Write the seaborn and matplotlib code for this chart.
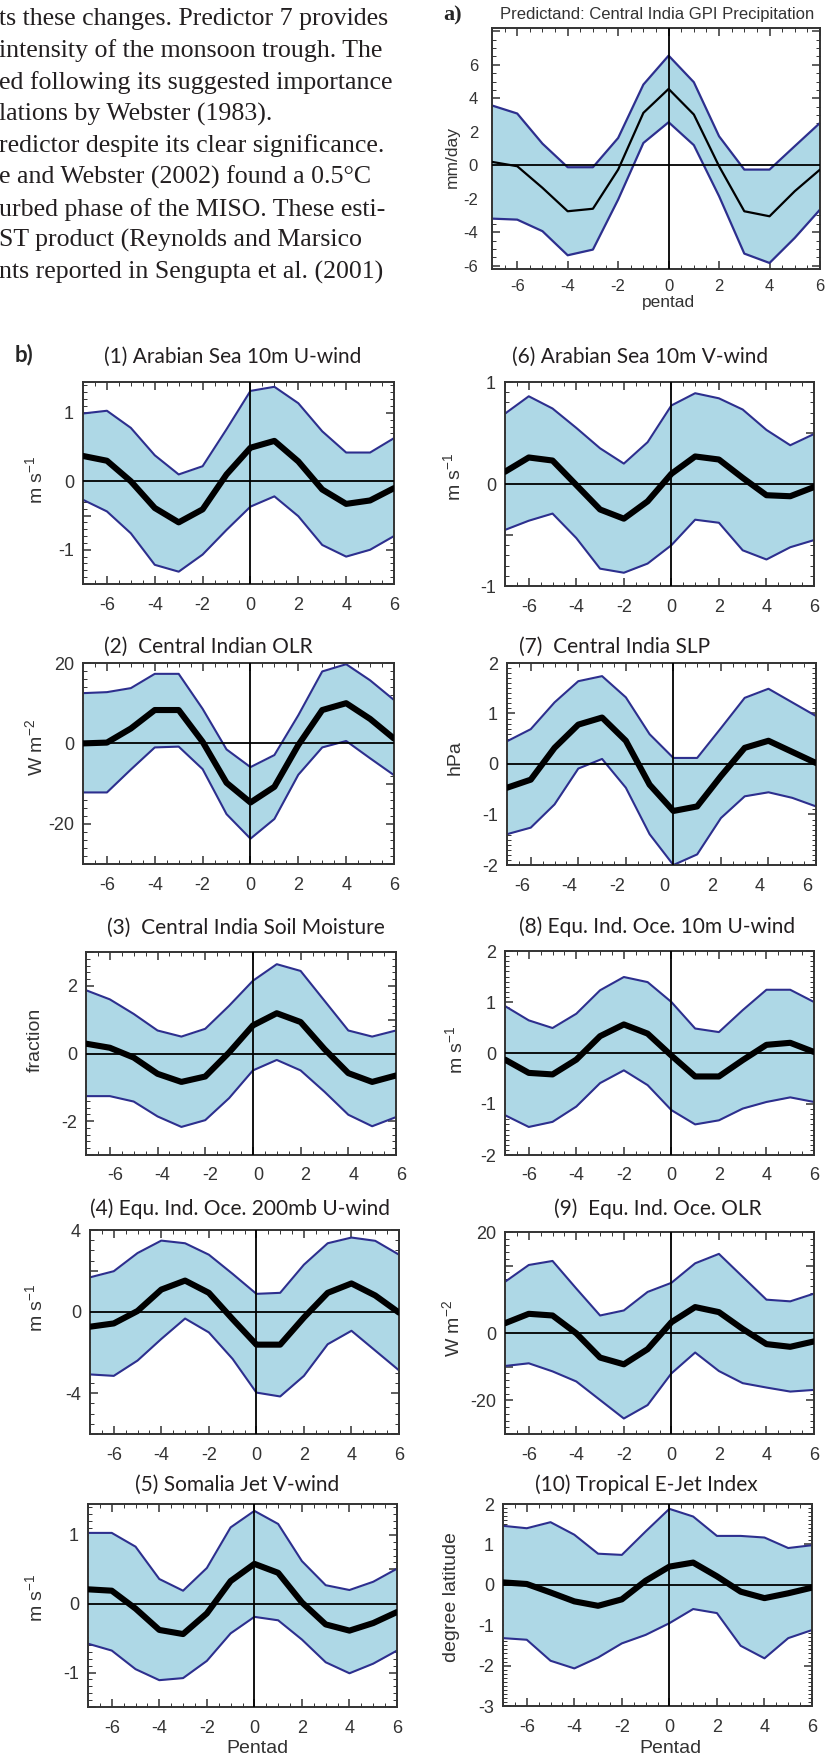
import numpy as np
import pandas as pd
import seaborn as sns
import matplotlib.pyplot as plt
from matplotlib.ticker import MultipleLocator
from matplotlib.transforms import ScaledTranslation

pentad = [-7, -6, -5, -4, -3, -2, -1, 0, 1, 2, 3, 4, 5, 6]

# a) predictand: Central India GPI precipitation (mm/day)
gpi_mean = [0.2, -0.06, -1.35, -2.75, -2.6, -0.26, 3.13, 4.56, 3.03, -0.06, -2.75, -3.05, -1.55, -0.26]
gpi_upper = [3.57, 3.09, 1.29, -0.12, -0.12, 1.63, 4.82, 6.55, 4.96, 1.73, -0.26, -0.26, 1.14, 2.53]
gpi_lower = [-3.19, -3.25, -3.94, -5.38, -5.04, -2.05, 1.33, 2.57, 1.2, -1.85, -5.28, -5.84, -4.34, -2.65]

# b) predictors
as_u_mean = [0.37, 0.3, 0.0, -0.39, -0.6, -0.41, 0.1, 0.49, 0.59, 0.29, -0.12, -0.33, -0.28, -0.1]
as_u_upper = [0.99, 1.03, 0.78, 0.38, 0.1, 0.22, 0.76, 1.32, 1.38, 1.14, 0.73, 0.42, 0.42, 0.63]
as_u_lower = [-0.27, -0.44, -0.76, -1.22, -1.32, -1.07, -0.71, -0.37, -0.22, -0.51, -0.93, -1.1, -1.0, -0.8]

ci_olr_mean = [0.0, 0.2, 3.7, 8.3, 8.3, 0.4, -9.8, -14.7, -10.8, -0.4, 8.3, 10.0, 6.1, 1.2]
ci_olr_upper = [12.5, 12.75, 13.75, 17.3, 17.3, 8.6, -1.5, -5.9, -2.9, 7.0, 17.9, 19.7, 15.7, 10.8]
ci_olr_lower = [-12.2, -12.2, -6.5, -1.0, -0.8, -6.4, -17.6, -23.7, -18.8, -7.8, -1.0, 0.6, -3.7, -7.9]

soil_mean = [0.29, 0.17, -0.12, -0.6, -0.84, -0.68, 0.03, 0.83, 1.19, 0.93, 0.13, -0.58, -0.84, -0.65]
soil_upper = [1.87, 1.6, 1.17, 0.68, 0.5, 0.73, 1.41, 2.15, 2.64, 2.44, 1.56, 0.68, 0.5, 0.68]
soil_lower = [-1.26, -1.26, -1.42, -1.86, -2.17, -1.97, -1.32, -0.5, -0.19, -0.5, -1.13, -1.81, -2.15, -1.88]

eio_u200_mean = [-0.74, -0.58, 0.03, 1.08, 1.52, 0.92, -0.37, -1.62, -1.62, -0.29, 0.92, 1.38, 0.79, -0.05]
eio_u200_upper = [1.68, 1.98, 2.87, 3.48, 3.35, 2.79, 1.85, 0.87, 0.92, 2.3, 3.35, 3.63, 3.47, 2.79]
eio_u200_lower = [-3.08, -3.15, -2.4, -1.34, -0.34, -1.02, -2.32, -3.97, -4.16, -3.15, -1.6, -0.94, -1.91, -2.88]

somali_mean = [0.21, 0.19, -0.07, -0.38, -0.44, -0.14, 0.33, 0.58, 0.45, 0.02, -0.3, -0.39, -0.28, -0.12]
somali_upper = [1.03, 1.03, 0.83, 0.36, 0.19, 0.52, 1.11, 1.35, 1.16, 0.62, 0.27, 0.2, 0.32, 0.51]
somali_lower = [-0.58, -0.68, -0.95, -1.11, -1.08, -0.83, -0.43, -0.19, -0.24, -0.52, -0.85, -1.01, -0.87, -0.68]

as_v_mean = [0.12, 0.26, 0.23, -0.01, -0.25, -0.34, -0.17, 0.1, 0.27, 0.24, 0.06, -0.11, -0.12, -0.03]
as_v_upper = [0.69, 0.86, 0.74, 0.55, 0.35, 0.2, 0.41, 0.77, 0.89, 0.84, 0.73, 0.53, 0.38, 0.49]
as_v_lower = [-0.45, -0.36, -0.29, -0.53, -0.83, -0.87, -0.78, -0.6, -0.35, -0.38, -0.65, -0.74, -0.62, -0.55]

slp_mean = [-0.47, -0.31, 0.32, 0.78, 0.92, 0.46, -0.41, -0.93, -0.84, -0.24, 0.32, 0.46, 0.24, 0.02]
slp_upper = [0.45, 0.69, 1.22, 1.64, 1.74, 1.32, 0.59, 0.12, 0.12, 0.71, 1.31, 1.49, 1.22, 0.95]
slp_lower = [-1.39, -1.26, -0.8, -0.09, 0.1, -0.47, -1.39, -2.0, -1.79, -1.07, -0.64, -0.56, -0.67, -0.84]

eio_u10_mean = [-0.13, -0.39, -0.42, -0.13, 0.33, 0.56, 0.38, -0.05, -0.46, -0.46, -0.14, 0.16, 0.2, 0.02]
eio_u10_upper = [0.92, 0.64, 0.49, 0.77, 1.23, 1.49, 1.39, 1.0, 0.48, 0.41, 0.84, 1.24, 1.24, 1.0]
eio_u10_lower = [-1.22, -1.45, -1.35, -1.05, -0.59, -0.34, -0.63, -1.12, -1.4, -1.32, -1.09, -0.96, -0.87, -0.96]

eio_olr_mean = [2.9, 5.7, 5.2, -0.1, -7.3, -9.3, -4.8, 3.2, 7.7, 6.2, 1.2, -3.3, -4.1, -2.5]
eio_olr_upper = [15.2, 20.2, 21.4, 13.2, 5.2, 6.7, 12.2, 14.9, 20.7, 23.5, 16.7, 9.9, 9.4, 11.7]
eio_olr_lower = [-9.8, -9.0, -11.4, -14.4, -19.9, -25.4, -21.4, -12.0, -5.8, -11.3, -14.9, -16.2, -17.4, -16.9]

ejet_mean = [0.06, 0.02, -0.19, -0.41, -0.52, -0.36, 0.1, 0.45, 0.55, 0.21, -0.17, -0.33, -0.21, -0.07]
ejet_upper = [1.46, 1.4, 1.55, 1.24, 0.77, 0.74, 1.32, 1.88, 1.69, 1.21, 1.21, 1.17, 0.91, 0.98]
ejet_lower = [-1.32, -1.36, -1.88, -2.07, -1.8, -1.45, -1.24, -0.95, -0.6, -0.7, -1.51, -1.82, -1.32, -1.12]

titles = ['(1) Arabian Sea 10m U-wind', '(2)  Central Indian OLR', '(3)  Central India Soil Moisture',
          '(4) Equ. Ind. Oce. 200mb U-wind', '(5) Somalia Jet V-wind', '(6) Arabian Sea 10m V-wind',
          '(7)  Central India SLP', '(8) Equ. Ind. Oce. 10m U-wind', '(9)  Equ. Ind. Oce. OLR',
          '(10) Tropical E-Jet Index']
ms = r'm s$^{-1}$'
wm2 = r'W m$^{-2}$'
units = [ms, wm2, 'fraction', ms, ms, ms, 'hPa', ms, wm2, 'degree latitude']

page_text = [
    "ts these changes. Predictor 7 provides",
    "intensity of the monsoon trough. The",
    "ed following its suggested importance",
    "lations by Webster (1983).",
    "redictor despite its clear significance.",
    "e and Webster (2002) found a 0.5\u00b0C",
    "urbed phase of the MISO. These esti-",
    "ST product (Reynolds and Marsico",
    "nts reported in Sengupta et al. (2001)",
]

series = [
    (as_u_mean, as_u_upper, as_u_lower),
    (ci_olr_mean, ci_olr_upper, ci_olr_lower),
    (soil_mean, soil_upper, soil_lower),
    (eio_u200_mean, eio_u200_upper, eio_u200_lower),
    (somali_mean, somali_upper, somali_lower),
    (as_v_mean, as_v_upper, as_v_lower),
    (slp_mean, slp_upper, slp_lower),
    (eio_u10_mean, eio_u10_upper, eio_u10_lower),
    (eio_olr_mean, eio_olr_upper, eio_olr_lower),
    (ejet_mean, ejet_upper, ejet_lower),
]

# axis scales: (ylim, major step, minor step, labelled ticks)
scales = [
    ((-1.5, 1.45), 0.5, 0.1, {-1: '-1', 0: '0', 1: '1'}),
    ((-30, 20), 10, 2, {-20: '-20', 0: '0', 20: '20'}),
    ((-3, 3), 1, 0.2, {-2: '-2', 0: '0', 2: '2'}),
    ((-6, 4), 2, 0.5, {-4: '-4', 0: '0', 4: '4'}),
    ((-1.5, 1.45), 0.5, 0.1, {-1: '-1', 0: '0', 1: '1'}),
    ((-1, 1), 0.5, 0.1, {-1: '-1', 0: '0', 1: '1'}),
    ((-2, 2), 1, 0.1, {-2: '-2', -1: '-1', 0: '0', 1: '1', 2: '2'}),
    ((-2, 2), 1, 0.1, {-2: '-2', -1: '-1', 0: '0', 1: '1', 2: '2'}),
    ((-30, 30), 10, 2, {-20: '-20', 0: '0', 30: '20'}),
    ((-3, 2), 1, 0.1, {-3: '-3', -2: '-2', -1: '-1', 0: '0', 1: '1', 2: '2'}),
]

# layout in pixels: axes (left, right, top, bottom), title centre, unit label centre, x label shift
layout = [
    ((83, 394, 382, 584), (233, 357), (35, 480), 0),
    ((83, 394, 663, 864), (208, 647), (35, 747), 0),
    ((86, 396, 952, 1155), (246, 928), (35, 1040), 5),
    ((90, 399, 1230, 1434), (240, 1209), (35, 1308), 0),
    ((88, 397, 1504, 1707), (237, 1485), (35, 1598), 0),
    ((505, 814, 382, 586), (640, 357), (453, 477), 0),
    ((507, 816, 663, 865), (615, 647), (455, 758), -9),
    ((505, 814, 951, 1155), (657, 927), (455, 1050), 0),
    ((505, 814, 1232, 1434), (658, 1209), (452, 1328), 0),
    ((503, 812, 1504, 1706), (646, 1485), (452, 1597), 0),
]

W, H = 831, 1760
FILL = '#aed8e6'
EDGE = '#2d2f8e'
INK = '#333333'

sns.set_theme(style='ticks')
plt.rcParams['font.family'] = ['Liberation Sans', 'DejaVu Sans']
plt.rcParams['axes.unicode_minus'] = False
plt.rcParams['mathtext.default'] = 'regular'

fig = plt.figure(figsize=(W / 100, H / 100), dpi=100)
fig.patch.set_facecolor('white')


def px_axes(box):
    l, r, t, b = box
    return fig.add_axes([l / W, 1 - b / H, (r - l) / W, (b - t) / H])


def ftext(x, y, s, **kw):
    return fig.text(x / W, 1 - y / H, s, **kw)


def draw_band(ax, mean, upper, lower, mean_lw, edge_lw):
    df = pd.DataFrame({'pentad': pentad, 'mean': mean, 'upper': upper, 'lower': lower})
    ax.fill_between(df['pentad'], df['lower'], df['upper'], color=FILL, linewidth=0, zorder=1)
    sns.lineplot(data=df, x='pentad', y='upper', color=EDGE, linewidth=edge_lw, ax=ax, zorder=2)
    sns.lineplot(data=df, x='pentad', y='lower', color=EDGE, linewidth=edge_lw, ax=ax, zorder=2)
    ax.axhline(0, color='black', linewidth=1.3, zorder=3)
    ax.axvline(0, color='black', linewidth=1.3, zorder=3)
    sns.lineplot(data=df, x='pentad', y='mean', color='black', linewidth=mean_lw, ax=ax, zorder=4)
    ax.set_xlabel('')
    ax.set_ylabel('')


def style_axes(ax, ylim, step, minor, labels, size, xpad, ypad, xshift=0):
    ax.set_xlim(-7, 6)
    ax.set_xticks(range(-6, 7, 2))
    ax.xaxis.set_minor_locator(MultipleLocator(0.5))
    ax.set_ylim(*ylim)
    majors = np.arange(np.ceil(ylim[0] / step) * step, ylim[1] + 1e-9, step)
    ax.set_yticks(majors, [labels.get(round(v, 3), '') for v in majors])
    ax.yaxis.set_minor_locator(MultipleLocator(minor))
    for s in ax.spines.values():
        s.set_color(INK)
        s.set_linewidth(1.4)
    ax.tick_params(which='both', direction='in', top=True, right=True, color=INK, labelcolor=INK)
    ax.tick_params(which='major', length=6, width=1.1)
    ax.tick_params(which='minor', length=3, width=0.7)
    ax.tick_params(axis='x', pad=xpad, labelsize=size)
    ax.tick_params(axis='y', pad=ypad, labelsize=size)
    if xshift:
        off = ScaledTranslation(xshift / 100, 0, fig.dpi_scale_trans)
        for lab in ax.get_xticklabels():
            lab.set_transform(lab.get_transform() + off)


# page text at the top left
for i, line in enumerate(page_text):
    ftext(-1, 19 + i * 31.7, line, family=['Liberation Serif', 'DejaVu Serif'], fontsize=18.6,
          color='#231f20', ha='left', va='center')

# panel a
ax_a = px_axes((492, 820, 28, 269))
draw_band(ax_a, gpi_mean, gpi_upper, gpi_lower, mean_lw=1.6, edge_lw=1.6)
style_axes(ax_a, (-6.2, 8.2), 2, 0.5, {v: str(v) for v in range(-6, 7, 2)}, 12, 7, 10)
ftext(453, 15, 'a)', family=['Liberation Serif'], fontweight='bold', fontsize=16, ha='center', va='center')
ftext(657, 15, 'Predictand: Central India GPI Precipitation', fontsize=12, color=INK, ha='center', va='center')
ftext(452, 157, 'mm/day', fontsize=12.5, color=INK, rotation=90, ha='center', va='center')
ftext(668, 302, 'pentad', fontsize=12.5, color=INK, ha='center', va='center')

# panel b
ftext(24, 355, 'b)', family=['Lato', 'DejaVu Sans'], fontweight='bold', fontsize=16, ha='center', va='center')
for (mean, upper, lower), (ylim, step, minor, labels), (box, tpos, upos, xshift), title, unit in zip(
        series, scales, layout, titles, units):
    ax = px_axes(box)
    draw_band(ax, mean, upper, lower, mean_lw=4.4, edge_lw=1.5)
    style_axes(ax, ylim, step, minor, labels, 13, 9, 6.5, xshift)
    ftext(*tpos, title, family=['Lato', 'DejaVu Sans'], fontsize=15, color='#231f20', ha='center', va='center')
    ftext(*upos, unit, fontsize=14, color=INK, rotation=90, ha='center', va='center')

ftext(257, 1748, 'Pentad', fontsize=14, color=INK, ha='center', va='center')
ftext(670, 1748, 'Pentad', fontsize=14, color=INK, ha='center', va='center')

fig.savefig('out.png', dpi=100)
